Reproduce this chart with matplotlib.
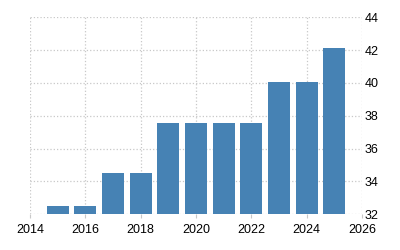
import matplotlib.pyplot as plt

years = [2015, 2016, 2017, 2018, 2019, 2020, 2021, 2022, 2023, 2024, 2025]
values = [32.5, 32.5, 34.5, 34.5, 37.56, 37.56, 37.56, 37.56, 40.07, 40.07, 42.14]
xticks = [2014, 2016, 2018, 2020, 2022, 2024, 2026]
yticks = [32, 34, 36, 38, 40, 42, 44]

plt.rcParams["font.family"] = ["Liberation Sans", "DejaVu Sans"]

fig = plt.figure(figsize=(4, 2.5), dpi=100)
ax = fig.add_axes([0.075, 0.143, 0.83, 0.788])

ax.bar(years, [v - 32 for v in values], bottom=32, width=0.8, color="#4682b4")

ax.set_xlim(2014, 2026)
ax.set_ylim(32, 44)
ax.set_xticks(xticks)
ax.set_yticks(yticks)
ax.yaxis.tick_right()

ax.set_axisbelow(True)
ax.grid(True, linestyle=":", color="#c8c8c8", linewidth=0.9)
for s in ax.spines.values():
    s.set_visible(False)

ax.tick_params(axis="x", length=3, color="#c8c8c8", pad=4, labelsize=9)
ax.tick_params(axis="y", length=0, pad=2, labelsize=9)

fig.savefig("out.png", dpi=100)
